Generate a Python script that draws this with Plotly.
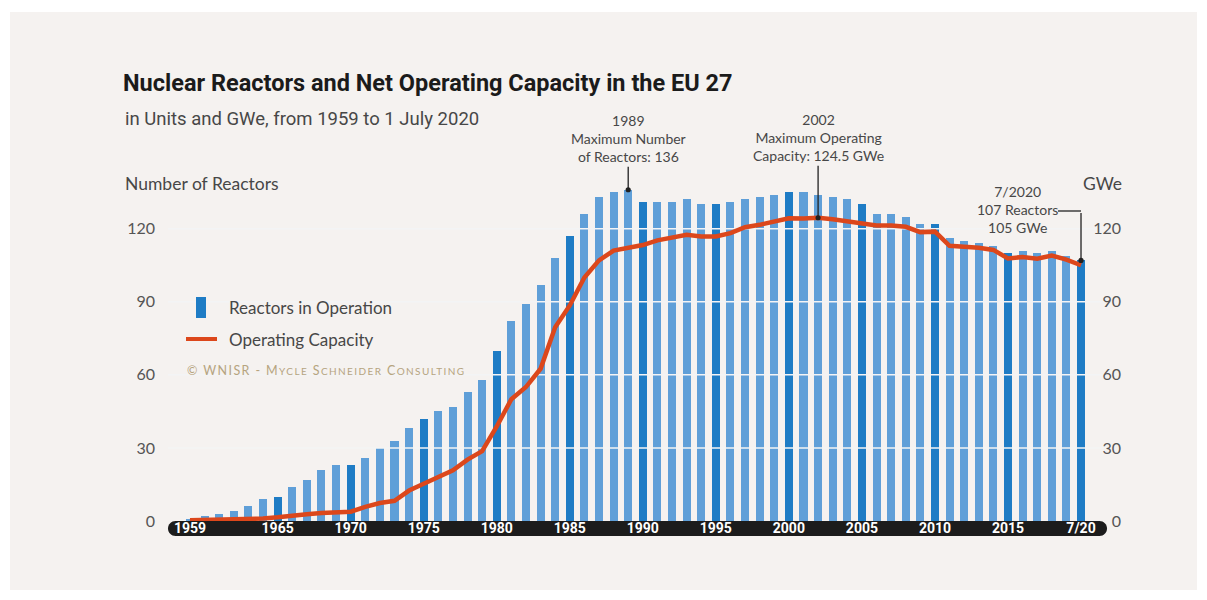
import plotly.graph_objects as go

# ---- data -------------------------------------------------------------
years = list(range(1959, 2021))

reactors_in_operation = [
    1, 2, 3, 4, 6, 9, 10, 14, 17, 21, 23, 23,            # 1959-1970
    26, 30, 33, 38, 42, 45, 47, 53, 58, 70,              # 1971-1980
    82, 89, 97, 108, 117, 126, 133, 135, 136, 131,       # 1981-1990
    131, 131, 132, 130, 130, 131, 132, 133, 134, 135,    # 1991-2000
    135, 134, 133, 132, 130, 126, 126, 125, 122, 122,    # 2001-2010
    116, 115, 114, 113, 110, 111, 110, 111, 109, 107,    # 2011-7/2020
]

operating_capacity_gwe = [
    0.3, 0.4, 0.5, 0.6, 0.8, 1.0, 1.5, 2.3, 2.8, 3.3, 3.7, 3.8,
    5.8, 7.4, 8.3, 12.5, 15.3, 17.8, 20.8, 25.2, 28.7, 38.8,
    50.0, 55.0, 62.5, 79.5, 88.5, 100.0, 107.0, 111.0, 112.3, 113.3,
    115.2, 116.2, 117.5, 116.8, 116.8, 118.2, 120.6, 121.6, 123.1, 124.3,
    124.2, 124.5, 123.9, 123.0, 122.0, 121.3, 121.3, 120.8, 118.6, 118.8,
    113.0, 112.6, 112.2, 111.3, 107.8, 108.4, 107.7, 109.0, 107.3, 105.0,
]

x_tick_years = [1959, 1965, 1970, 1975, 1980, 1985, 1990, 1995, 2000, 2005, 2010, 2015, 2020]
x_tick_labels = ["1959", "1965", "1970", "1975", "1980", "1985", "1990",
                 "1995", "2000", "2005", "2010", "2015", "7/20"]
y_ticks = [0, 30, 60, 90, 120]
grid_values = [30, 60, 90, 120]

# ---- styling ----------------------------------------------------------
BG = "#f5f2f0"
LIGHT_BLUE = "#5f9fd8"
DARK_BLUE = "#1e7cc5"
ORANGE = "#dc471b"
TEXT = "#474747"
FONT = "Lato"

W, H = 1207, 600
ML, MR, MT, MB = 168, 83, 180, 79
X_RANGE = [1957.494, 2021.848]
Y_RANGE = [0, 140]


def px(x):
    """pixel column -> paper x"""
    return (x - ML) / (W - ML - MR)


def py(y):
    """pixel row -> paper y"""
    return (H - MB - y) / (H - MT - MB)


bar_colors = [DARK_BLUE if (yr % 5 == 0 and yr >= 1965) else LIGHT_BLUE for yr in years]

fig = go.Figure()

fig.add_trace(go.Bar(
    x=years, y=reactors_in_operation, width=0.55,
    marker=dict(color=bar_colors, line=dict(width=0)),
    yaxis="y", showlegend=False, name="Reactors in Operation",
))

# light grid lines running across the bars
gx, gy = [], []
for v in grid_values:
    gx += [X_RANGE[0], X_RANGE[1], None]
    gy += [v, v, None]
fig.add_trace(go.Scatter(
    x=gx, y=gy, mode="lines", yaxis="y",
    line=dict(color="#f3f4f5", width=1.5),
    hoverinfo="skip", showlegend=False,
))

fig.add_trace(go.Scatter(
    x=years, y=operating_capacity_gwe, mode="lines", yaxis="y2",
    line=dict(color=ORANGE, width=4.5), showlegend=False,
    name="Operating Capacity",
))

# ---- shapes -----------------------------------------------------------
r = 7.5
k = 0.5523 * r
pw = 939
pill = (f"M {r},{-r} L {pw - r},{-r} C {pw - r + k},{-r} {pw},{-k} {pw},0 "
        f"C {pw},{k} {pw - r + k},{r} {pw - r},{r} L {r},{r} "
        f"C {r - k},{r} 0,{k} 0,0 C 0,{-k} {r - k},{-r} {r},{-r} Z")

last_year = years[-1]
shapes = [
    dict(type="rect", xref="paper", yref="paper", layer="below",
         x0=px(10), x1=px(1197), y0=py(590), y1=py(12),
         fillcolor=BG, line=dict(width=0)),
    dict(type="path", xref="paper", yref="paper", layer="below",
         xsizemode="pixel", ysizemode="pixel", xanchor=0, yanchor=py(528.5),
         path=pill, fillcolor="#1c1c1c", line=dict(width=0)),
    # legend swatches
    dict(type="rect", xref="paper", yref="paper",
         x0=px(196), x1=px(206), y0=py(318), y1=py(297),
         fillcolor=DARK_BLUE, line=dict(width=0)),
    dict(type="line", xref="paper", yref="paper",
         x0=px(186), x1=px(217), y0=py(339), y1=py(339),
         line=dict(color=ORANGE, width=4)),
    # leader for the 7/2020 callout
    dict(type="line", xref="x", yref="paper",
         x0=last_year - 23 / 14.607, x1=last_year, y0=py(211), y1=py(211),
         line=dict(color="#222222", width=1.3)),
]

# ---- annotations ------------------------------------------------------
peak_idx = reactors_in_operation.index(max(reactors_in_operation))
cap_idx = operating_capacity_gwe.index(max(operating_capacity_gwe))
callout_font = dict(family=FONT, size=14, color=TEXT)

annotations = [
    dict(text="in Units and GWe, from 1959 to 1 July 2020", xref="paper", yref="paper",
         x=px(123), y=py(119), xanchor="left", yanchor="middle", showarrow=False,
         font=dict(family="Roboto", size=18.5, color=TEXT)),
    dict(text="Number of Reactors", xref="paper", yref="paper",
         x=px(123), y=py(183), xanchor="left", yanchor="middle", showarrow=False,
         font=dict(family=FONT, size=17.5, color=TEXT)),
    dict(text="GWe", xref="paper", yref="paper",
         x=px(1081), y=py(183), xanchor="left", yanchor="middle", showarrow=False,
         font=dict(family=FONT, size=17.5, color=TEXT)),
    dict(text="Reactors in Operation", xref="paper", yref="paper",
         x=px(227), y=py(307), xanchor="left", yanchor="middle", showarrow=False,
         font=dict(family=FONT, size=17, color=TEXT)),
    dict(text="Operating Capacity", xref="paper", yref="paper",
         x=px(227), y=py(339), xanchor="left", yanchor="middle", showarrow=False,
         font=dict(family=FONT, size=17, color=TEXT)),
    dict(text=("<span style='letter-spacing:1.4px'>© WNISR - M<span style='font-size:10px'>YCLE</span> "
               "S<span style='font-size:10px'>CHNEIDER</span> "
               "C<span style='font-size:10px'>ONSULTING</span></span>"),
         xref="paper", yref="paper", x=px(185), y=py(370),
         xanchor="left", yanchor="middle", showarrow=False,
         font=dict(family=FONT, size=12.5, color="#b6a47f")),
    dict(text=f"{years[peak_idx]}<br>Maximum Number<br>of Reactors: {reactors_in_operation[peak_idx]}",
         xref="x", yref="y", x=years[peak_idx], y=reactors_in_operation[peak_idx],
         ax=0, ay=-51, showarrow=True, arrowhead=6, arrowsize=1, arrowwidth=1.3,
         arrowcolor="#222222", standoff=0, font=callout_font),
    dict(text=f"{years[cap_idx]}<br>Maximum Operating<br>Capacity: {operating_capacity_gwe[cap_idx]} GWe",
         xref="x", yref="y2", x=years[cap_idx], y=operating_capacity_gwe[cap_idx],
         ax=0, ay=-80, showarrow=True, arrowhead=6, arrowsize=1, arrowwidth=1.3,
         arrowcolor="#222222", standoff=0, font=callout_font),
    dict(text=(f"7/{last_year}<br>{reactors_in_operation[-1]} Reactors<br>"
               f"{operating_capacity_gwe[-1]:.0f} GWe"),
         xref="paper", yref="paper", x=px(1017), y=py(209),
         xanchor="center", yanchor="middle", showarrow=False, font=callout_font),
    dict(text="", xref="x", yref="y", x=last_year, y=reactors_in_operation[-1],
         ax=0, ay=-49, showarrow=True, arrowhead=6, arrowsize=1, arrowwidth=1.3,
         arrowcolor="#222222", standoff=0),
]

axis_font = dict(family=FONT, size=16, color="#555555")

fig.update_layout(
    width=W, height=H,
    margin=dict(l=ML, r=MR, t=MT, b=MB, pad=0),
    paper_bgcolor="white",
    plot_bgcolor="rgba(0,0,0,0)",
    font=dict(family=FONT, color=TEXT),
    title=dict(
        text="Nuclear Reactors and Net Operating Capacity in the EU 27",
        x=123 / W, xref="container", xanchor="left",
        y=1 - 83 / H, yref="container", yanchor="middle",
        font=dict(family="Roboto", size=23.5, weight="bold", color="#1b1b1b"),
    ),
    bargap=0,
    xaxis=dict(
        domain=[0, 940 / (W - ML - MR)], range=X_RANGE,
        tickvals=x_tick_years, ticktext=x_tick_labels, ticks="",
        ticklabelstandoff=-3,
        tickfont=dict(family="Roboto", size=14, weight="bold", color="white"),
        showgrid=False, zeroline=False, showline=False, fixedrange=True,
    ),
    yaxis=dict(
        range=Y_RANGE, tickvals=y_ticks, ticks="", ticklabelstandoff=12,
        tickfont=axis_font, showgrid=False, zeroline=False, showline=False,
    ),
    yaxis2=dict(
        range=Y_RANGE, tickvals=y_ticks, ticks="", overlaying="y", side="right",
        anchor="free", position=1.0, ticklabelposition="inside",
        ticklabeloverflow="allow",
        tickfont=axis_font, showgrid=False, zeroline=False, showline=False,
    ),
    shapes=shapes,
    annotations=annotations,
    showlegend=False,
)

fig.write_html("out.html")
